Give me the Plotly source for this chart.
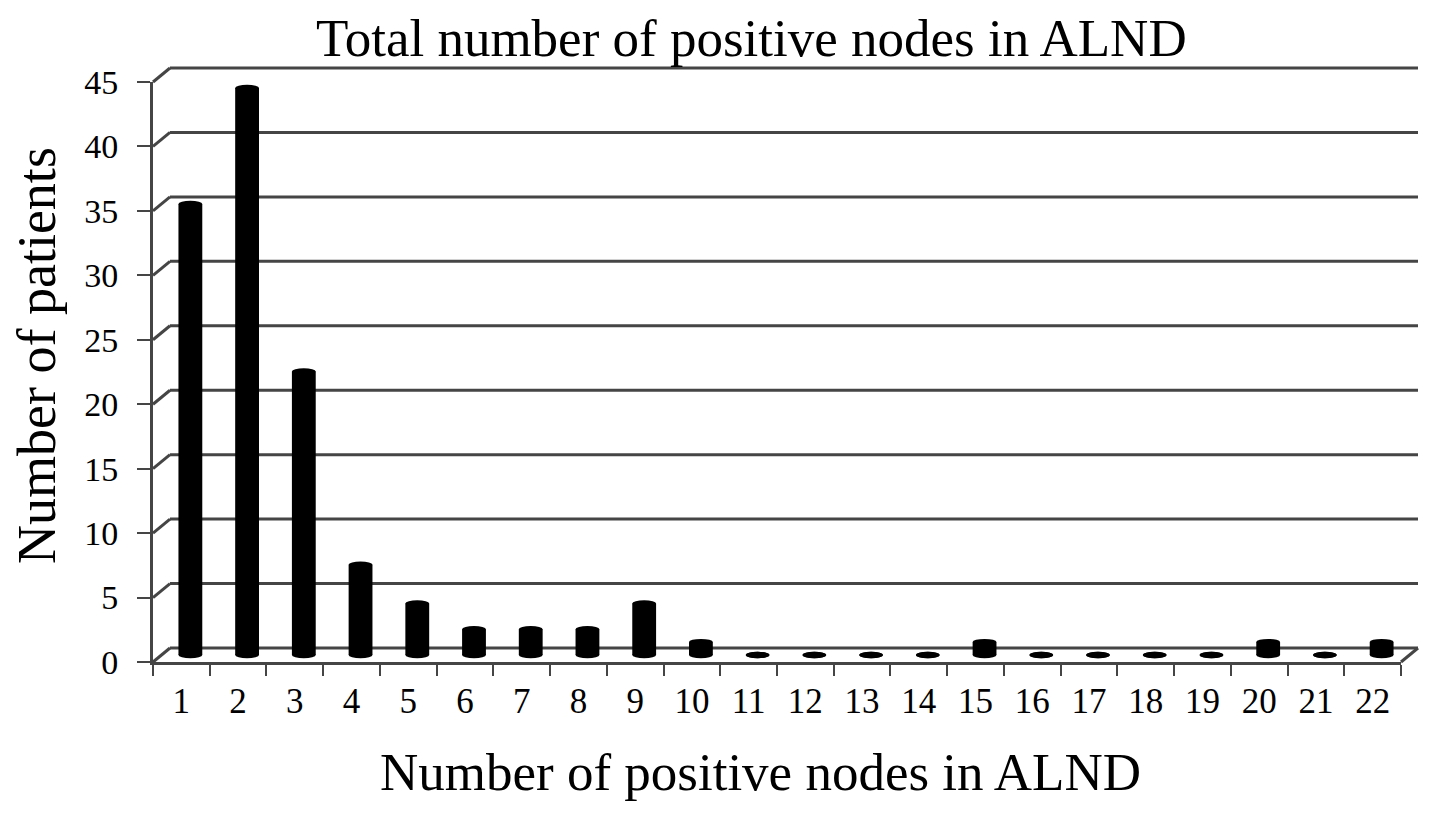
import plotly.graph_objects as go

# ---- data ----
categories = [str(i) for i in range(1, 23)]
patients = [35, 44, 22, 7, 4, 2, 2, 2, 4, 1, 0, 0, 0, 0, 1, 0, 0, 0, 0, 1, 0, 1]
y_ticks = [0, 5, 10, 15, 20, 25, 30, 35, 40, 45]
title_text = "Total number of positive nodes in ALND"
x_title = "Number of positive nodes in ALND"
y_title = "Number of patients"

W, H = 1441, 816
PAGE_OFF = 8  # page body margin
def fx(px):
    return (px - PAGE_OFF) / W
def fy(py):
    return 1 - (py - PAGE_OFF) / H

FONT = "Liberation Serif, Times New Roman, serif"
GRID = "#454545"
LW = 3

# pixel geometry of the pseudo-3D box
FRONT_X = (153, 1401)
FRONT_Y = (662, 82)
DEPTH_DX, DEPTH_DY = 17, 14
MID_DX, MID_DY = 9, 7
ymax = 45
px_per_unit = (FRONT_Y[0] - FRONT_Y[1]) / ymax
PAD = 8  # extra pixels so lines at the range ends are not clipped
pad_u = PAD / px_per_unit

fig = go.Figure()

xnum = list(range(1, len(categories) + 1))
# back wall subplot
fig.add_trace(go.Scatter(x=[0.5, 22.5], y=[0, 0], mode="markers",
                         marker=dict(opacity=0), hoverinfo="skip",
                         showlegend=False, xaxis="x", yaxis="y"))
# bars (middle depth)
fig.add_trace(go.Bar(x=xnum, y=patients, width=0.42,
                     marker=dict(color="black", line=dict(width=0)),
                     showlegend=False, xaxis="x2", yaxis="y2"))
# front axes
fig.add_trace(go.Scatter(x=categories, y=[0] * len(categories), mode="markers",
                         marker=dict(opacity=0), hoverinfo="skip",
                         showlegend=False, xaxis="x3", yaxis="y3"))

hidden = dict(showgrid=False, zeroline=False, showticklabels=False,
              showline=False, ticks="", automargin=False)

fig.update_layout(
    template="none",
    width=W, height=H, autosize=False,
    margin=dict(l=0, r=0, t=0, b=0, pad=0),
    paper_bgcolor="white",
    plot_bgcolor="rgba(0,0,0,0)",
    showlegend=False,
    xaxis=dict(domain=[fx(FRONT_X[0] + DEPTH_DX - PAD), fx(FRONT_X[1] + DEPTH_DX + PAD)],
               range=[0.5 - PAD / 56.7, 22.5 + PAD / 56.7], anchor="y", **hidden),
    yaxis=dict(domain=[fy(FRONT_Y[0] - DEPTH_DY + PAD), fy(FRONT_Y[1] - DEPTH_DY - PAD)],
               range=[-pad_u, ymax + pad_u], anchor="x", **hidden),
    xaxis2=dict(domain=[fx(FRONT_X[0] + MID_DX), fx(FRONT_X[1] + MID_DX)],
                range=[0.5, 22.5], anchor="y2", **hidden),
    yaxis2=dict(domain=[fy(FRONT_Y[0] - MID_DY + PAD), fy(FRONT_Y[1] - MID_DY - PAD)],
                range=[-pad_u, ymax + pad_u], anchor="x2", **hidden),
    xaxis3=dict(domain=[fx(FRONT_X[0]), fx(FRONT_X[1])],
                type="category", categoryarray=categories,
                range=[-0.5, len(categories) - 0.5], anchor="y3",
                tickson="boundaries", ticks="outside", ticklen=11,
                tickwidth=2, tickcolor=GRID, showline=True, linecolor=GRID,
                linewidth=LW, showgrid=False, zeroline=False,
                automargin=False, ticklabelstandoff=6,
                tickfont=dict(family=FONT, size=35, color="black")),
    yaxis3=dict(domain=[fy(FRONT_Y[0]), fy(FRONT_Y[1])],
                range=[0, ymax], anchor="x3", tickvals=y_ticks,
                ticks="outside", ticklen=13, tickwidth=2, tickcolor=GRID,
                showline=True, linecolor=GRID, linewidth=LW,
                showgrid=False, zeroline=False, automargin=False,
                ticklabelstandoff=12,
                tickfont=dict(family=FONT, size=34, color="black")),
)

shapes = []
# back wall gridlines
for t in y_ticks:
    shapes.append(dict(type="line", xref="x", yref="y",
                       x0=0.5, x1=22.5, y0=t, y1=t,
                       line=dict(color=GRID, width=LW), layer="below"))
# left wall diagonals from front ticks to back wall (paper coords from tick values)
y3_dom = (fy(FRONT_Y[0]), fy(FRONT_Y[1]))
def y3_paper(v):
    return y3_dom[0] + (y3_dom[1] - y3_dom[0]) * v / ymax
dy_paper = DEPTH_DY / H
for t in y_ticks:
    shapes.append(dict(type="line", xref="paper", yref="paper",
                       x0=fx(FRONT_X[0]), y0=y3_paper(t),
                       x1=fx(FRONT_X[0] + DEPTH_DX), y1=y3_paper(t) + dy_paper,
                       line=dict(color=GRID, width=LW), layer="below"))
# right floor edge
shapes.append(dict(type="line", xref="paper", yref="paper",
                   x0=fx(FRONT_X[1]), y0=y3_paper(0),
                   x1=fx(FRONT_X[1] + DEPTH_DX), y1=y3_paper(0) + dy_paper,
                   line=dict(color=GRID, width=LW), layer="below"))
# cylinder end caps
eh = 3.2 / px_per_unit
for xv, v in zip(xnum, patients):
    for yc in (0, v):
        shapes.append(dict(type="circle", xref="x2", yref="y2",
                           x0=xv - 0.21, x1=xv + 0.21,
                           y0=yc - eh, y1=yc + eh,
                           fillcolor="black", line=dict(width=0),
                           layer="above"))
fig.update_layout(shapes=shapes)

fig.add_annotation(text=title_text, xref="paper", yref="paper",
                   x=fx(751), y=fy(38), xanchor="center", yanchor="middle",
                   showarrow=False,
                   font=dict(family=FONT, size=53, color="black"))
fig.add_annotation(text=x_title, xref="paper", yref="paper",
                   x=fx(760), y=fy(772), xanchor="center", yanchor="middle",
                   showarrow=False,
                   font=dict(family=FONT, size=53, color="black"))
fig.add_annotation(text=y_title, xref="paper", yref="paper",
                   x=fx(37), y=fy(356), xanchor="center", yanchor="middle",
                   showarrow=False, textangle=-90,
                   font=dict(family=FONT, size=54, color="black"))

fig.write_html("out.html")
